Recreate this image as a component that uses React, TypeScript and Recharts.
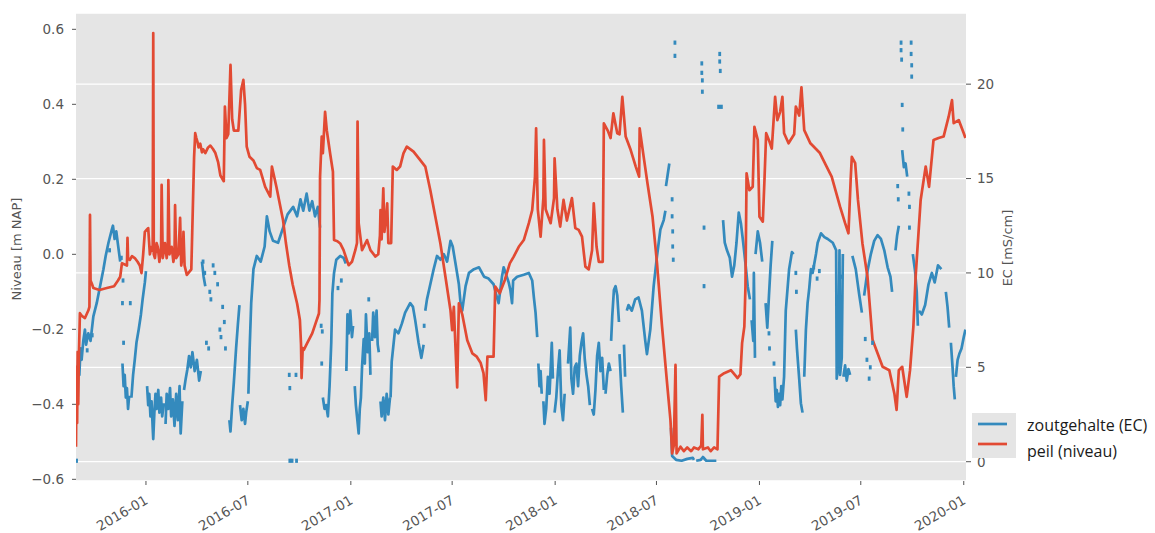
import React from 'react';
import { ComposedChart, Line, Scatter, XAxis, YAxis, CartesianGrid } from 'recharts';

type Pt = [string, number];

// Water level (peil) in m NAP, left axis
const peil2015: Pt[] = [
  ['2015-08-29', -0.513], ['2015-08-30', -0.30], ['2015-08-31', -0.45], ['2015-09-01', -0.26],
  ['2015-09-02', -0.40], ['2015-09-03', -0.28], ['2015-09-05', -0.157], ['2015-09-09', -0.165],
  ['2015-09-14', -0.17], ['2015-09-20', -0.15], ['2015-09-22', -0.14], ['2015-09-23', 0.105],
  ['2015-09-24', -0.07], ['2015-09-26', -0.077], ['2015-09-29', -0.09], ['2015-10-10', -0.095],
  ['2015-10-23', -0.09], ['2015-11-05', -0.085], ['2015-11-12', -0.07], ['2015-11-16', -0.06],
  ['2015-11-19', -0.024], ['2015-11-28', -0.03], ['2015-11-29', 0.044], ['2015-11-30', -0.01],
  ['2015-12-03', -0.015], ['2015-12-07', -0.005], ['2015-12-12', -0.01], ['2015-12-17', -0.02],
  ['2015-12-21', -0.03], ['2015-12-24', -0.05], ['2015-12-27', 0.0], ['2015-12-30', 0.06],
];

const peil2016: Pt[] = [
  ['2016-01-02', 0.065], ['2016-01-05', 0.07], ['2016-01-08', 0.0], ['2016-01-11', 0.02],
  ['2016-01-13', 0.01], ['2016-01-14', 0.59], ['2016-01-15', 0.0], ['2016-01-17', -0.01],
  ['2016-01-20', 0.03], ['2016-01-22', 0.02], ['2016-01-25', -0.02], ['2016-01-28', 0.02],
  ['2016-01-29', 0.185], ['2016-01-31', -0.01], ['2016-02-04', 0.03], ['2016-02-07', -0.01],
  ['2016-02-09', 0.02], ['2016-02-10', 0.198], ['2016-02-12', 0.0], ['2016-02-16', 0.02],
  ['2016-02-19', -0.02], ['2016-02-21', 0.0], ['2016-02-22', 0.131], ['2016-02-24', -0.01],
  ['2016-02-28', 0.0], ['2016-03-02', 0.097], ['2016-03-04', -0.03], ['2016-03-07', 0.0],
  ['2016-03-08', 0.06], ['2016-03-10', -0.03], ['2016-03-14', -0.055], ['2016-03-22', -0.04],
  ['2016-03-27', 0.26], ['2016-03-29', 0.323], ['2016-03-31', 0.31], ['2016-04-02', 0.30],
  ['2016-04-04', 0.285], ['2016-04-07', 0.295], ['2016-04-10', 0.272], ['2016-04-12', 0.28],
  ['2016-04-16', 0.27], ['2016-04-21', 0.285], ['2016-04-25', 0.29], ['2016-04-30', 0.28],
  ['2016-05-04', 0.27], ['2016-05-09', 0.245], ['2016-05-13', 0.21], ['2016-05-19', 0.195],
  ['2016-05-21', 0.394], ['2016-05-24', 0.31], ['2016-05-27', 0.32], ['2016-05-31', 0.505],
  ['2016-06-03', 0.36], ['2016-06-06', 0.33], ['2016-06-10', 0.33], ['2016-06-14', 0.33],
  ['2016-06-19', 0.438], ['2016-06-23', 0.465], ['2016-06-26', 0.40], ['2016-06-29', 0.287],
  ['2016-07-04', 0.26], ['2016-07-11', 0.25], ['2016-07-17', 0.23], ['2016-07-23', 0.225],
  ['2016-08-01', 0.18], ['2016-08-10', 0.154], ['2016-08-13', 0.234], ['2016-08-21', 0.18],
  ['2016-09-02', 0.09], ['2016-09-07', 0.03], ['2016-09-13', -0.03], ['2016-09-19', -0.08],
  ['2016-09-27', -0.131], ['2016-10-02', -0.175], ['2016-10-04', -0.24], ['2016-10-05', -0.33],
  ['2016-10-07', -0.25], ['2016-10-09', -0.255], ['2016-10-15', -0.237], ['2016-10-24', -0.211],
  ['2016-10-30', -0.184], ['2016-11-05', -0.158], ['2016-11-06', -0.122], ['2016-11-07', 0.207],
  ['2016-11-10', 0.314], ['2016-11-12', 0.27], ['2016-11-16', 0.38], ['2016-11-19', 0.331],
  ['2016-11-25', 0.269], ['2016-11-30', 0.22], ['2016-12-02', 0.038], ['2016-12-08', 0.035],
  ['2016-12-13', 0.029], ['2016-12-19', 0.011], ['2016-12-28', -0.029],
];

const peil2017: Pt[] = [
  ['2017-01-03', -0.02], ['2017-01-09', 0.011], ['2017-01-12', 0.03], ['2017-01-13', 0.354],
  ['2017-01-15', 0.083], ['2017-01-21', 0.011], ['2017-01-30', 0.038], ['2017-02-05', 0.011],
  ['2017-02-14', -0.006], ['2017-02-19', 0.0], ['2017-02-22', 0.05], ['2017-02-23', 0.118],
  ['2017-02-25', 0.04], ['2017-02-28', 0.176], ['2017-03-02', 0.06], ['2017-03-05', 0.1],
  ['2017-03-07', 0.136], ['2017-03-09', 0.03], ['2017-03-14', 0.03], ['2017-03-17', 0.234],
  ['2017-03-24', 0.225], ['2017-03-30', 0.234], ['2017-04-05', 0.269], ['2017-04-11', 0.287],
  ['2017-04-23', 0.274], ['2017-05-05', 0.251], ['2017-05-14', 0.234], ['2017-05-23', 0.171],
  ['2017-06-01', 0.1], ['2017-06-10', 0.029], ['2017-06-19', -0.06], ['2017-06-28', -0.149],
  ['2017-07-01', -0.202], ['2017-07-04', -0.14], ['2017-07-07', -0.25], ['2017-07-10', -0.355],
  ['2017-07-13', -0.131], ['2017-07-19', -0.16], ['2017-07-28', -0.229], ['2017-08-06', -0.264],
  ['2017-08-14', -0.273], ['2017-08-21', -0.29], ['2017-08-26', -0.317], ['2017-08-30', -0.389],
  ['2017-09-02', -0.273], ['2017-09-13', -0.273], ['2017-09-16', -0.086], ['2017-09-24', -0.104],
  ['2017-10-03', -0.069], ['2017-10-12', -0.024], ['2017-10-19', -0.006], ['2017-10-28', 0.02],
  ['2017-11-06', 0.038], ['2017-11-15', 0.083], ['2017-11-21', 0.118], ['2017-11-26', 0.207],
  ['2017-11-28', 0.336], ['2017-12-01', 0.12], ['2017-12-06', 0.047], ['2017-12-11', 0.15],
  ['2017-12-12', 0.305], ['2017-12-15', 0.12], ['2017-12-24', 0.083], ['2017-12-30', 0.15],
  ['2017-12-31', 0.256],
];

const peil2018: Pt[] = [
  ['2018-01-05', 0.12], ['2018-01-10', 0.074], ['2018-01-16', 0.145], ['2018-01-22', 0.09],
  ['2018-01-31', 0.15], ['2018-02-06', 0.07], ['2018-02-12', 0.065], ['2018-02-18', 0.047],
  ['2018-02-24', -0.033], ['2018-03-02', -0.040], ['2018-03-08', 0.011], ['2018-03-11', 0.136],
  ['2018-03-16', 0.02], ['2018-03-20', -0.02], ['2018-03-27', -0.02], ['2018-03-29', 0.349],
  ['2018-04-05', 0.33], ['2018-04-10', 0.31], ['2018-04-15', 0.376], ['2018-04-22', 0.323],
  ['2018-04-26', 0.32], ['2018-05-01', 0.42], ['2018-05-07', 0.314], ['2018-05-16', 0.278],
  ['2018-05-25', 0.234], ['2018-05-31', 0.207], ['2018-06-01', 0.336], ['2018-06-09', 0.251],
  ['2018-06-15', 0.189], ['2018-06-24', 0.1], ['2018-07-02', -0.024], ['2018-07-11', -0.193],
  ['2018-07-20', -0.344], ['2018-07-26', -0.442], ['2018-07-29', -0.531], ['2018-08-01', -0.51],
  ['2018-08-04', -0.295], ['2018-08-06', -0.531], ['2018-08-13', -0.513], ['2018-08-19', -0.525],
  ['2018-08-25', -0.515], ['2018-09-01', -0.525], ['2018-09-06', -0.515], ['2018-09-14', -0.52],
  ['2018-09-19', -0.51], ['2018-09-21', -0.428], ['2018-09-22', -0.52], ['2018-10-01', -0.515],
  ['2018-10-06', -0.525], ['2018-10-12', -0.515], ['2018-10-18', -0.52], ['2018-10-21', -0.326],
  ['2018-10-30', -0.317], ['2018-11-11', -0.309], ['2018-11-23', -0.33], ['2018-11-28', -0.32],
  ['2018-12-01', -0.237], ['2018-12-05', -0.193], ['2018-12-07', -0.086], ['2018-12-09', 0.216],
  ['2018-12-14', 0.171], ['2018-12-20', 0.18], ['2018-12-23', 0.34], ['2018-12-29', 0.305],
];

const peil2019: Pt[] = [
  ['2019-01-01', 0.1], ['2019-01-07', 0.087], ['2019-01-10', 0.2], ['2019-01-13', 0.323],
  ['2019-01-19', 0.30], ['2019-01-23', 0.282], ['2019-01-29', 0.42], ['2019-02-02', 0.358],
  ['2019-02-07', 0.38], ['2019-02-11', 0.42], ['2019-02-14', 0.323], ['2019-02-22', 0.296],
  ['2019-03-04', 0.32], ['2019-03-07', 0.394], ['2019-03-13', 0.37], ['2019-03-17', 0.445],
  ['2019-03-22', 0.331], ['2019-04-02', 0.296], ['2019-04-19', 0.27], ['2019-05-01', 0.234],
  ['2019-05-10', 0.207], ['2019-05-25', 0.127], ['2019-06-03', 0.083], ['2019-06-09', 0.056],
  ['2019-06-13', 0.2], ['2019-06-15', 0.26], ['2019-06-21', 0.243], ['2019-06-26', 0.145],
  ['2019-07-04', 0.029], ['2019-07-13', -0.06], ['2019-07-22', -0.228], ['2019-07-31', -0.264],
  ['2019-08-09', -0.3], ['2019-08-21', -0.309], ['2019-08-30', -0.371], ['2019-09-03', -0.415],
  ['2019-09-07', -0.309], ['2019-09-13', -0.3], ['2019-09-21', -0.38], ['2019-09-27', -0.309],
  ['2019-10-03', -0.193], ['2019-10-07', -0.06], ['2019-10-16', 0.145], ['2019-10-25', 0.234],
  ['2019-10-31', 0.18], ['2019-11-08', 0.305], ['2019-11-17', 0.31], ['2019-11-26', 0.314],
  ['2019-12-05', 0.367], ['2019-12-11', 0.411], ['2019-12-14', 0.35], ['2019-12-23', 0.358],
  ['2020-01-01', 0.323], ['2020-01-04', 0.31],
];

// Salinity (EC) in mS/cm, right axis; each inner list is one unbroken stretch of logging
const ecRuns2015: Pt[][] = [
  [
    ['2015-08-30', 3.0], ['2015-08-31', 4.6], ['2015-09-01', 3.4], ['2015-09-02', 5.4],
    ['2015-09-04', 4.6], ['2015-09-06', 6.0], ['2015-09-08', 5.4], ['2015-09-11', 6.4],
    ['2015-09-14', 7.0], ['2015-09-16', 6.2], ['2015-09-20', 6.8], ['2015-09-24', 6.4],
    ['2015-09-29', 7.7], ['2015-10-05', 8.4], ['2015-10-11', 9.3], ['2015-10-17', 10.2],
    ['2015-10-21', 10.9], ['2015-10-26', 11.6], ['2015-11-01', 12.3], ['2015-11-03', 12.5],
    ['2015-11-06', 11.8], ['2015-11-09', 12.2], ['2015-11-12', 11.5], ['2015-11-16', 10.6],
  ],
  [
    ['2015-11-20', 5.2], ['2015-11-22', 4.0], ['2015-11-24', 4.6], ['2015-11-26', 3.4],
    ['2015-11-28', 3.9], ['2015-11-30', 2.8], ['2015-12-02', 3.5],
  ],
  [
    ['2015-12-06', 3.4], ['2015-12-09', 4.6], ['2015-12-12', 5.4], ['2015-12-15', 6.3],
    ['2015-12-19', 7.0], ['2015-12-23', 7.8], ['2015-12-26', 8.6], ['2015-12-30', 9.5],
    ['2016-01-01', 10.1],
  ],
];

const ecRuns2016: Pt[][] = [
  [
    ['2016-01-03', 4.0], ['2016-01-05', 3.0], ['2016-01-07', 3.6], ['2016-01-09', 2.4],
    ['2016-01-11', 3.2], ['2016-01-13', 1.8], ['2016-01-14', 1.2], ['2016-01-16', 2.6],
    ['2016-01-18', 3.6], ['2016-01-20', 2.8], ['2016-01-23', 3.8], ['2016-01-25', 2.6],
    ['2016-01-28', 3.4], ['2016-01-30', 2.4], ['2016-02-02', 3.1],
  ],
  [
    ['2016-02-05', 2.0], ['2016-02-07', 3.6], ['2016-02-10', 2.8], ['2016-02-13', 3.9],
    ['2016-02-15', 2.4], ['2016-02-18', 3.3], ['2016-02-21', 1.9], ['2016-02-24', 3.6],
    ['2016-02-27', 2.2], ['2016-03-01', 4.0], ['2016-03-03', 1.5], ['2016-03-06', 3.2],
  ],
  [
    ['2016-03-09', 3.8], ['2016-03-12', 4.4], ['2016-03-15', 4.9], ['2016-03-18', 5.6],
    ['2016-03-21', 5.0], ['2016-03-24', 5.8], ['2016-03-28', 4.8], ['2016-04-01', 5.4],
    ['2016-04-05', 4.3], ['2016-04-08', 4.8],
  ],
  [['2016-04-10', 10.6], ['2016-04-13', 9.8], ['2016-04-16', 9.3]],
  [
    ['2016-05-29', 2.2], ['2016-05-31', 1.6], ['2016-06-03', 3.0], ['2016-06-06', 4.2],
    ['2016-06-10', 6.0], ['2016-06-13', 7.2], ['2016-06-16', 8.3],
  ],
  [
    ['2016-06-17', 3.0], ['2016-06-20', 2.2], ['2016-06-23', 2.8], ['2016-06-26', 2.0],
    ['2016-06-28', 2.6], ['2016-07-01', 3.2],
  ],
  [
    ['2016-07-02', 3.6], ['2016-07-04', 5.8], ['2016-07-07', 8.4], ['2016-07-11', 10.2],
    ['2016-07-17', 10.9], ['2016-07-24', 10.6], ['2016-07-31', 11.4], ['2016-08-04', 13.0],
    ['2016-08-09', 12.2], ['2016-08-15', 11.7], ['2016-08-24', 11.6], ['2016-09-02', 12.4],
    ['2016-09-10', 13.1], ['2016-09-20', 13.5], ['2016-09-27', 13.0], ['2016-10-03', 13.9],
    ['2016-10-08', 13.3], ['2016-10-14', 14.2], ['2016-10-19', 13.3], ['2016-10-24', 13.8],
    ['2016-10-29', 13.0], ['2016-11-03', 13.5], ['2016-11-07', 12.4],
  ],
  [
    ['2016-11-12', 3.4], ['2016-11-15', 2.8], ['2016-11-18', 3.0], ['2016-11-21', 2.4],
    ['2016-11-24', 4.0], ['2016-11-27', 6.3], ['2016-11-29', 8.9], ['2016-12-02', 10.0],
    ['2016-12-06', 10.7], ['2016-12-13', 10.9], ['2016-12-19', 10.8], ['2016-12-23', 10.5],
  ],
  [
    ['2016-12-24', 4.8], ['2016-12-26', 7.8], ['2016-12-28', 6.8], ['2016-12-31', 8.0],
    ['2017-01-03', 6.6], ['2017-01-05', 7.2],
  ],
];

const ecRuns2017: Pt[][] = [
  [
    ['2017-01-08', 4.0], ['2017-01-10', 3.0], ['2017-01-12', 2.4], ['2017-01-15', 1.5],
    ['2017-01-17', 2.8], ['2017-01-19', 3.4], ['2017-01-21', 5.0], ['2017-01-24', 6.5],
    ['2017-01-26', 5.2], ['2017-01-28', 7.8], ['2017-01-31', 5.8], ['2017-02-03', 6.8],
    ['2017-02-05', 4.6],
  ],
  [
    ['2017-02-08', 6.4], ['2017-02-10', 7.9], ['2017-02-13', 6.6], ['2017-02-16', 8.0],
    ['2017-02-18', 6.2], ['2017-02-20', 5.8],
  ],
  [
    ['2017-02-23', 3.2], ['2017-02-25', 2.4], ['2017-02-28', 3.4], ['2017-03-03', 2.2],
    ['2017-03-06', 3.6], ['2017-03-09', 2.5], ['2017-03-12', 3.4],
  ],
  [
    ['2017-03-13', 3.4], ['2017-03-15', 5.3], ['2017-03-21', 7.0], ['2017-03-27', 6.8],
    ['2017-04-02', 7.3], ['2017-04-08', 7.9], ['2017-04-17', 8.4], ['2017-04-22', 8.2],
    ['2017-04-26', 7.5], ['2017-05-02', 6.3], ['2017-05-07', 5.5], ['2017-05-11', 6.2],
  ],
  [
    ['2017-05-14', 8.0], ['2017-05-17', 8.6], ['2017-05-23', 9.4], ['2017-05-29', 10.2],
    ['2017-06-04', 10.9], ['2017-06-10', 10.7], ['2017-06-16', 11.0], ['2017-06-22', 10.6],
    ['2017-06-28', 11.7], ['2017-07-02', 11.4], ['2017-07-07', 10.5], ['2017-07-13', 9.4],
    ['2017-07-16', 8.4], ['2017-07-19', 8.0], ['2017-07-25', 9.3], ['2017-07-31', 10.0],
    ['2017-08-09', 10.2], ['2017-08-18', 10.3], ['2017-08-27', 9.8], ['2017-09-04', 9.7],
    ['2017-09-13', 9.4], ['2017-09-19', 8.7], ['2017-09-22', 8.4], ['2017-09-28', 9.8],
    ['2017-10-01', 10.3], ['2017-10-10', 9.5], ['2017-10-13', 9.1], ['2017-10-16', 8.4],
    ['2017-10-18', 9.6], ['2017-10-25', 9.8], ['2017-11-06', 9.9], ['2017-11-15', 10.0],
    ['2017-11-21', 9.6], ['2017-11-24', 8.7], ['2017-11-27', 7.9], ['2017-11-30', 6.6],
  ],
  [['2017-12-02', 5.2], ['2017-12-04', 4.0], ['2017-12-06', 4.8], ['2017-12-08', 3.6]],
  [
    ['2017-12-11', 3.2], ['2017-12-13', 2.0], ['2017-12-16', 2.8], ['2017-12-19', 4.5],
    ['2017-12-22', 3.6], ['2017-12-26', 6.3], ['2017-12-28', 4.4],
  ],
  [
    ['2017-12-31', 2.6], ['2018-01-03', 3.4], ['2018-01-06', 4.8], ['2018-01-09', 5.9],
    ['2018-01-12', 3.0], ['2018-01-15', 2.2], ['2018-01-18', 3.6],
  ],
];

const ecRuns2018: Pt[][] = [
  [
    ['2018-01-24', 5.2], ['2018-01-28', 7.1], ['2018-01-30', 4.4], ['2018-02-02', 3.6],
    ['2018-02-05', 5.0], ['2018-02-08', 5.2], ['2018-02-11', 4.0], ['2018-02-14', 5.6],
    ['2018-02-17', 6.3], ['2018-02-20', 6.8], ['2018-02-23', 5.4], ['2018-02-26', 4.6],
    ['2018-03-01', 4.0], ['2018-03-04', 3.0],
  ],
  [
    ['2018-03-08', 2.8], ['2018-03-11', 2.5], ['2018-03-14', 3.8], ['2018-03-17', 5.6],
    ['2018-03-20', 6.3], ['2018-03-23', 4.8], ['2018-03-26', 5.5], ['2018-03-29', 3.8],
  ],
  [['2018-04-01', 3.6], ['2018-04-04', 4.6], ['2018-04-07', 5.2], ['2018-04-10', 4.8]],
  [
    ['2018-04-11', 6.4], ['2018-04-13', 7.7], ['2018-04-16', 9.1], ['2018-04-19', 9.3],
    ['2018-04-22', 8.8], ['2018-04-25', 7.4],
  ],
  [['2018-04-26', 5.7], ['2018-04-29', 4.0], ['2018-05-02', 2.6]],
  [['2018-05-04', 6.2], ['2018-05-06', 4.5]],
  [
    ['2018-05-09', 8.0], ['2018-05-12', 8.3], ['2018-05-18', 8.0], ['2018-05-24', 8.6],
    ['2018-05-30', 8.7], ['2018-06-05', 8.0], ['2018-06-11', 6.4], ['2018-06-14', 5.7],
    ['2018-06-20', 7.0], ['2018-06-26', 9.3], ['2018-07-02', 10.9], ['2018-07-08', 12.3],
    ['2018-07-14', 12.8], ['2018-07-17', 13.3],
  ],
  [['2018-07-18', 14.6], ['2018-07-21', 15.2], ['2018-07-24', 15.8]],
  [
    ['2018-07-27', 1.8], ['2018-07-29', 0.3], ['2018-08-05', 0.1], ['2018-08-15', 0.05],
    ['2018-08-25', 0.15], ['2018-09-04', 0.2], ['2018-09-06', 0.1],
  ],
  [
    ['2018-09-10', 0.05], ['2018-09-18', 0.1], ['2018-09-22', 0.25], ['2018-09-28', 0.05],
    ['2018-10-06', 0.05], ['2018-10-16', 0.05],
  ],
  [
    ['2018-10-28', 12.8], ['2018-10-31', 11.6], ['2018-11-04', 11.2], ['2018-11-09', 10.8],
    ['2018-11-13', 9.8], ['2018-11-17', 10.4], ['2018-11-21', 11.6], ['2018-11-25', 13.2],
    ['2018-11-29', 12.6], ['2018-12-03', 11.6], ['2018-12-07', 10.5], ['2018-12-11', 9.3],
    ['2018-12-15', 8.6],
  ],
  [['2018-12-18', 7.5], ['2018-12-21', 6.4], ['2018-12-24', 5.5]],
  [
    ['2018-12-22', 10.0], ['2018-12-25', 11.0], ['2018-12-29', 12.2], ['2019-01-02', 11.6],
    ['2019-01-06', 10.6],
  ],
];

const ecRuns2019: Pt[][] = [
  [['2019-01-12', 8.4], ['2019-01-15', 7.1], ['2019-01-18', 8.8], ['2019-01-21', 10.4], ['2019-01-24', 11.7]],
  [
    ['2019-01-28', 4.5], ['2019-01-30', 3.2], ['2019-02-01', 3.8], ['2019-02-03', 2.9],
    ['2019-02-05', 3.6], ['2019-02-07', 3.0], ['2019-02-09', 4.0], ['2019-02-11', 3.3],
    ['2019-02-14', 4.5], ['2019-02-17', 8.0], ['2019-02-23', 10.2], ['2019-02-28', 11.1],
    ['2019-03-03', 11.0],
  ],
  [
    ['2019-03-07', 7.0], ['2019-03-09', 6.0], ['2019-03-11', 5.2], ['2019-03-13', 4.4],
    ['2019-03-16', 3.1], ['2019-03-19', 2.6],
  ],
  [
    ['2019-03-22', 4.5], ['2019-03-25', 7.0], ['2019-03-28', 8.4], ['2019-03-31', 9.2],
    ['2019-04-03', 10.2], ['2019-04-06', 10.0], ['2019-04-12', 11.0], ['2019-04-15', 11.6],
    ['2019-04-21', 12.1], ['2019-04-27', 11.9], ['2019-05-03', 11.8], ['2019-05-12', 11.6],
    ['2019-05-18', 11.2], ['2019-05-24', 11.2], ['2019-05-30', 11.0],
  ],
  [
    ['2019-05-19', 4.4], ['2019-05-22', 5.2], ['2019-05-25', 4.6], ['2019-05-28', 5.5],
    ['2019-05-31', 4.5], ['2019-06-03', 5.1], ['2019-06-06', 4.3], ['2019-06-09', 4.9],
    ['2019-06-12', 4.6],
  ],
  [['2019-06-16', 10.9], ['2019-06-22', 10.2], ['2019-06-28', 8.9], ['2019-07-03', 7.9]],
  [
    ['2019-07-07', 8.8], ['2019-07-13', 10.1], ['2019-07-19', 11.0], ['2019-07-25', 11.7],
    ['2019-07-31', 12.0], ['2019-08-06', 11.8], ['2019-08-12', 11.2], ['2019-08-18', 10.3],
    ['2019-08-23', 9.8], ['2019-08-26', 9.0],
  ],
  [['2019-09-01', 11.2], ['2019-09-04', 12.0], ['2019-09-07', 12.5]],
  [['2019-09-13', 16.5], ['2019-09-16', 15.6], ['2019-09-19', 15.8], ['2019-09-22', 15.1]],
  [['2019-10-02', 11.0], ['2019-10-06', 10.1], ['2019-10-09', 9.0], ['2019-10-11', 7.2]],
  [
    ['2019-10-13', 8.0], ['2019-10-18', 7.8], ['2019-10-24', 8.3], ['2019-10-30', 9.4],
    ['2019-11-05', 10.0], ['2019-11-10', 9.5], ['2019-11-16', 10.4], ['2019-11-22', 10.2],
  ],
  [['2019-11-30', 9.0], ['2019-12-03', 8.2], ['2019-12-06', 7.1]],
  [['2019-12-09', 6.3], ['2019-12-12', 5.0], ['2019-12-14', 4.0], ['2019-12-16', 3.3]],
  [
    ['2019-12-18', 4.5], ['2019-12-21', 5.4], ['2019-12-24', 5.7], ['2019-12-28', 6.0],
    ['2020-01-01', 6.6], ['2020-01-04', 7.0],
  ],
];

// Single EC readings between gaps in the logging
const ecDots: Pt[] = [
  ['2015-08-30', 0.05], ['2015-09-18', 5.9], ['2015-09-27', 6.7], ['2015-10-28', 11.2],
  ['2015-11-18', 10.8], ['2015-11-21', 9.6], ['2015-11-20', 8.4], ['2015-11-22', 6.3],
  ['2015-12-04', 8.4],
  ['2016-04-12', 10.6], ['2016-04-15', 10.0], ['2016-04-18', 6.3], ['2016-04-22', 6.0],
  ['2016-04-24', 9.0], ['2016-04-26', 8.6], ['2016-04-30', 10.4], ['2016-05-03', 10.0],
  ['2016-05-08', 9.4], ['2016-05-12', 7.0], ['2016-05-14', 6.6], ['2016-05-17', 8.2],
  ['2016-05-20', 7.4], ['2016-05-22', 6.0], ['2016-09-13', 4.6], ['2016-09-14', 3.9],
  ['2016-09-25', 4.6], ['2016-09-14', 0.05], ['2016-09-18', 0.05], ['2016-09-26', 0.05],
  ['2016-11-09', 7.2], ['2016-11-11', 6.9], ['2016-11-10', 5.2], ['2016-12-09', 9.2],
  ['2016-12-15', 9.6],
  ['2017-02-02', 8.6], ['2017-05-12', 7.2],
  ['2018-07-29', 13.9], ['2018-07-29', 13.0], ['2018-07-30', 12.2], ['2018-07-30', 11.4],
  ['2018-07-31', 10.7], ['2018-08-03', 22.2], ['2018-08-03', 21.5], ['2018-09-20', 21.1],
  ['2018-09-20', 20.6], ['2018-09-21', 20.2], ['2018-09-21', 19.6], ['2018-09-24', 12.4],
  ['2018-09-24', 9.3], ['2018-10-20', 18.8], ['2018-10-22', 21.6], ['2018-10-22', 21.2],
  ['2018-10-23', 20.7], ['2018-10-25', 18.8],
  ['2019-01-18', 6.8], ['2019-01-19', 6.0], ['2019-01-27', 5.2], ['2019-03-07', 10.0],
  ['2019-03-08', 9.0], ['2019-04-08', 10.3], ['2019-04-14', 9.7], ['2019-04-18', 10.1],
  ['2019-05-27', 9.8], ['2019-07-09', 6.5], ['2019-07-12', 5.4], ['2019-07-16', 4.4],
  ['2019-07-18', 5.0], ['2019-07-22', 6.3], ['2019-09-05', 14.6], ['2019-09-06', 13.9],
  ['2019-09-11', 22.2], ['2019-09-11', 21.8], ['2019-09-12', 21.3], ['2019-09-13', 18.9],
  ['2019-09-14', 17.6], ['2019-09-25', 14.2], ['2019-09-26', 13.5], ['2019-09-26', 12.4],
  ['2019-09-29', 22.2], ['2019-09-29', 21.6], ['2019-09-30', 21.0], ['2019-09-30', 20.4],
];

const dateTicks = [
  '2016-01-01', '2016-07-01', '2017-01-01', '2017-07-01', '2018-01-01',
  '2018-07-01', '2019-01-01', '2019-07-01', '2020-01-01',
];
const levelTicks = [-0.6, -0.4, -0.2, 0, 0.2, 0.4, 0.6];
const ecTicks = [0, 5, 10, 15, 20];

const DAY_MS = 86400000;
const toDay = (s: string) =>
  Date.UTC(+s.slice(0, 4), +s.slice(5, 7) - 1, +s.slice(8, 10)) / DAY_MS;

const RED = '#E24A33';
const BLUE = '#348ABD';
const PANEL = '#E5E5E5';
const TICK_GREY = '#555555';
const FONT = '"DejaVu Sans", sans-serif';

const peilData = [...peil2015, ...peil2016, ...peil2017, ...peil2018, ...peil2019].map(
  ([d, v]) => ({ t: toDay(d), v }),
);

// Flatten the EC stretches, with a null between them so the line breaks
const ecLineData: { t: number; v: number | null }[] = [];
[...ecRuns2015, ...ecRuns2016, ...ecRuns2017, ...ecRuns2018, ...ecRuns2019].forEach((run) => {
  run.forEach(([d, v]) => ecLineData.push({ t: toDay(d), v }));
  ecLineData.push({ t: toDay(run[run.length - 1][0]) + 0.5, v: null });
});
ecLineData.sort((a, b) => a.t - b.t);

const ecDotData = ecDots.map(([d, v]) => ({ t: toDay(d), v }));

const xDomain = [toDay('2015-08-29'), toDay('2020-01-05')];

const fmtLevel = (v: number) => {
  const s = Math.abs(v).toFixed(1);
  return v < 0 ? `\u2212${s}` : s;
};

const DateTick = (props: any) => {
  const { x, y, payload } = props;
  const d = new Date(payload.value * DAY_MS);
  const label = `${d.getUTCFullYear()}-${String(d.getUTCMonth() + 1).padStart(2, '0')}`;
  const ax = x + 3;
  const ay = y + 16;
  return (
    <text
      x={ax}
      y={ay}
      textAnchor="end"
      transform={`rotate(-30 ${ax} ${ay})`}
      fill={TICK_GREY}
      fontSize={13.5}
      fontFamily={FONT}
    >
      {label}
    </text>
  );
};

const DotMark = (props: any) => {
  const { cx, cy } = props;
  if (cx == null || cy == null) return null;
  return <rect x={cx - 1.4} y={cy - 2.1} width={2.8} height={4.2} fill={BLUE} />;
};

export default function App() {
  return (
    <div style={{ position: 'absolute', left: 0, top: 0, width: 1155, height: 533, background: '#fff' }}>
      <ComposedChart
        width={1155}
        height={533}
        margin={{ top: 13, right: 129, bottom: 12, left: 16 }}
      >
        <CartesianGrid
          xAxisId="x"
          yAxisId="ec"
          vertical={false}
          stroke="#ffffff"
          strokeWidth={1.3}
          fill={PANEL}
          fillOpacity={1}
        />
        <XAxis
          xAxisId="x"
          dataKey="t"
          type="number"
          domain={xDomain}
          allowDataOverflow
          ticks={dateTicks.map(toDay)}
          tick={<DateTick />}
          tickSize={4}
          tickLine={{ stroke: TICK_GREY }}
          axisLine={false}
          height={40}
          interval={0}
        />
        <YAxis
          yAxisId="level"
          orientation="left"
          type="number"
          domain={[-0.6045, 0.6435]}
          allowDataOverflow
          ticks={levelTicks}
          tickFormatter={fmtLevel}
          tick={{ fill: TICK_GREY, fontSize: 13.5, fontFamily: FONT }}
          tickSize={4}
          tickMargin={8}
          tickLine={{ stroke: TICK_GREY }}
          axisLine={false}
          width={60}
          interval={0}
        />
        <YAxis
          yAxisId="ec"
          orientation="right"
          type="number"
          domain={[-1.022, 23.77]}
          allowDataOverflow
          ticks={ecTicks}
          tick={{ fill: TICK_GREY, fontSize: 13.5, fontFamily: FONT }}
          tickSize={5}
          tickMargin={6}
          tickLine={{ stroke: TICK_GREY }}
          axisLine={false}
          width={60}
          interval={0}
        />
        <Line
          xAxisId="x"
          yAxisId="ec"
          data={ecLineData}
          dataKey="v"
          type="linear"
          stroke={BLUE}
          strokeWidth={2.7}
          dot={false}
          activeDot={false}
          isAnimationActive={false}
          strokeLinejoin="round"
        />
        <Scatter
          xAxisId="x"
          yAxisId="ec"
          data={ecDotData}
          dataKey="v"
          shape={<DotMark />}
          isAnimationActive={false}
        />
        <Line
          xAxisId="x"
          yAxisId="level"
          data={peilData}
          dataKey="v"
          type="linear"
          stroke={RED}
          strokeWidth={2.7}
          dot={false}
          activeDot={false}
          isAnimationActive={false}
          strokeLinejoin="round"
        />
      </ComposedChart>
      <svg
        width={1155}
        height={533}
        style={{ position: 'absolute', left: 0, top: 0, pointerEvents: 'none' }}
      >
        <text
          x={0}
          y={0}
          transform="translate(21 249) rotate(-90)"
          textAnchor="middle"
          fill={TICK_GREY}
          fontSize={13}
          fontFamily={FONT}
        >
          Niveau [m NAP]
        </text>
        <text
          x={0}
          y={0}
          transform="translate(1012 248) rotate(-90)"
          textAnchor="middle"
          fill={TICK_GREY}
          fontSize={13}
          fontFamily={FONT}
        >
          EC [mS/cm]
        </text>
        <rect x={972} y={413} width={44} height={45} fill={PANEL} />
        <line x1={978} y1={424} x2={1007} y2={424} stroke={BLUE} strokeWidth={2.7} />
        <line x1={978} y1={444} x2={1007} y2={444} stroke={RED} strokeWidth={2.7} />
        <text x={1027} y={431} fill="#1a1a1a" fontSize={16} fontFamily='"Open Sans", sans-serif'>
          zoutgehalte (EC)
        </text>
        <text x={1027} y={457} fill="#1a1a1a" fontSize={16} fontFamily='"Open Sans", sans-serif'>
          peil (niveau)
        </text>
      </svg>
    </div>
  );
}
